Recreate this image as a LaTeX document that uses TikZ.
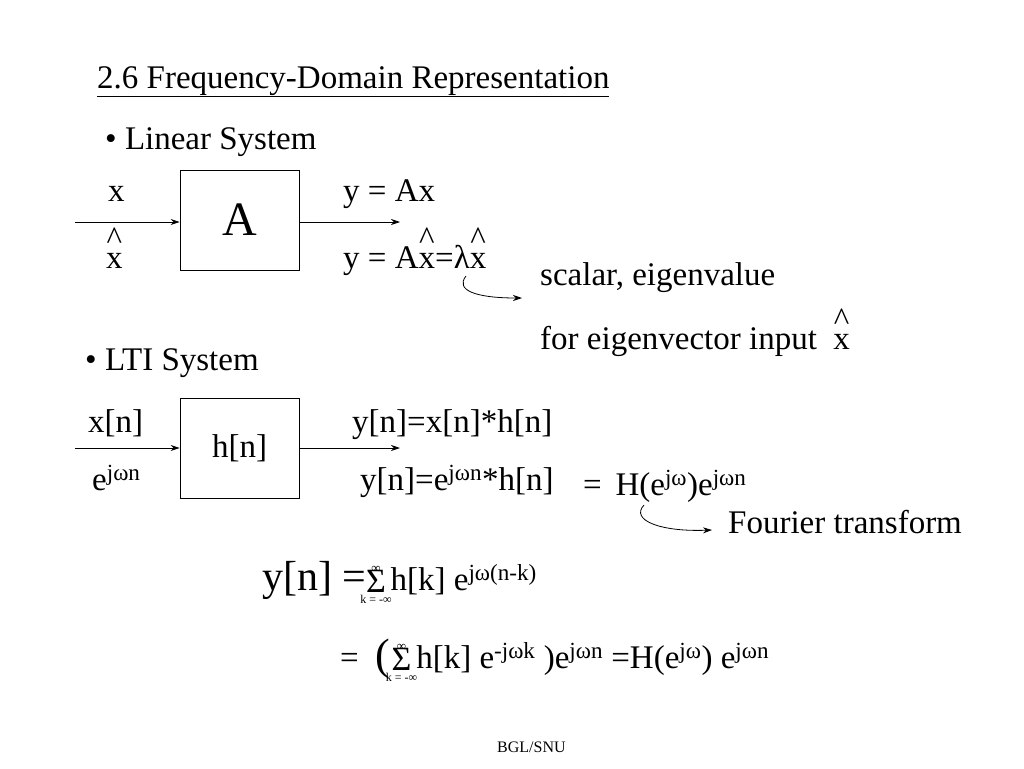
\documentclass[tikz,border=0pt]{standalone}
\usepackage{fontspec}
\setmainfont{Liberation Serif}
\usetikzlibrary{arrows.meta}
\newcommand{\xh}{\ooalign{x\cr\hidewidth\raisebox{0.55em}{\textasciicircum}\hidewidth\cr}}
\newcommand{\sumk}{\raisebox{-13pt}{\shortstack{{\fontsize{13}{13}\selectfont ∞}\\[-5pt]{\fontsize{34}{34}\selectfont Σ}\\[-1pt]{\fontsize{12}{12}\selectfont k = -∞}}}}
\begin{document}
\begin{tikzpicture}[x=1pt,y=-1pt,
  txt/.style={anchor=base west,inner sep=0pt,font=\fontsize{33}{36}\selectfont},
  blk/.style={draw,line width=0.8pt,minimum width=119pt,minimum height=100pt,inner sep=0pt},
  con/.style={line width=0.8pt,-{Stealth[length=9pt,width=6pt]}}]
\useasboundingbox (0,0) rectangle (1024,768);
\node[txt] (title) at (97,88) {\underline{2.6 Frequency-Domain Representation}};
\node[txt] (ls) at (105,149) {• Linear System};
\node[blk,font=\fontsize{48}{48}\selectfont] (A) at (239.5,220) {A};
\coordinate (ain) at (75,222);
\coordinate (aout) at (400,222);
\draw[con] (ain) -- (A.west|-ain);
\draw[con] (A.east|-aout) -- (aout);
\node[txt] (x1) at (108,201) {x};
\node[txt] (x2) at (106,268) {\xh};
\node[txt] (y1) at (343,201) {y = Ax};
\node[txt] (y2) at (343,268) {y = A\xh=λ\xh};
\node[txt] (sc) at (540,285) {scalar, eigenvalue};
\node[txt] (ev) at (540,349) {for eigenvector input \ \xh};
\coordinate (c1s) at (466,276);
\coordinate (c1e) at (522,298);
\draw[con] (c1s) .. controls (455,290) and (475,298) .. (c1e);
\node[txt] (lti) at (85,370) {• LTI System};
\node[blk,font=\fontsize{33}{36}\selectfont] (H) at (239.5,448) {h[n]};
\coordinate (hin) at (75,448);
\coordinate (hout) at (400,448);
\draw[con] (hin) -- (H.west|-hin);
\draw[con] (H.east|-hout) -- (hout);
\node[txt] (xn) at (88,432) {x[n]};
\node[txt] (ejw) at (92,490) {e\textsuperscript{jωn}};
\node[txt] (yn1) at (352,432) {y[n]=x[n]*h[n]};
\node[txt] (yn2) at (360,490) {y[n]=e\textsuperscript{jωn}*h[n]};
\node[txt] (Hf) at (583,495) {=\ \,H(e\textsuperscript{jω})e\textsuperscript{jωn}};
\coordinate (c2s) at (644,505);
\coordinate (c2e) at (712,530);
\draw[con] (c2s) .. controls (630,520) and (660,532) .. (c2e);
\node[txt] (ft) at (728,533) {Fourier transform};
\node[txt,font=\fontsize{42}{44}\selectfont] (f1) at (262,590) {y[n] =\hspace{-6pt}\sumk\hspace{-1pt}\fontsize{33}{36}\selectfont h[k] e\textsuperscript{jω(n-k)}};
\node[txt,font=\fontsize{33}{36}\selectfont] (f2) at (340,668) {= \ \raisebox{-1pt}{\fontsize{44}{44}\selectfont (}\hspace{-4pt}\sumk\hspace{-1pt}h[k] e\textsuperscript{-jωk} )e\textsuperscript{jωn} =H(e\textsuperscript{jω}) e\textsuperscript{jωn}};
\node[txt,font=\fontsize{16}{18}\selectfont] (bgl) at (497,752) {BGL/SNU};
\end{tikzpicture}
\end{document}
